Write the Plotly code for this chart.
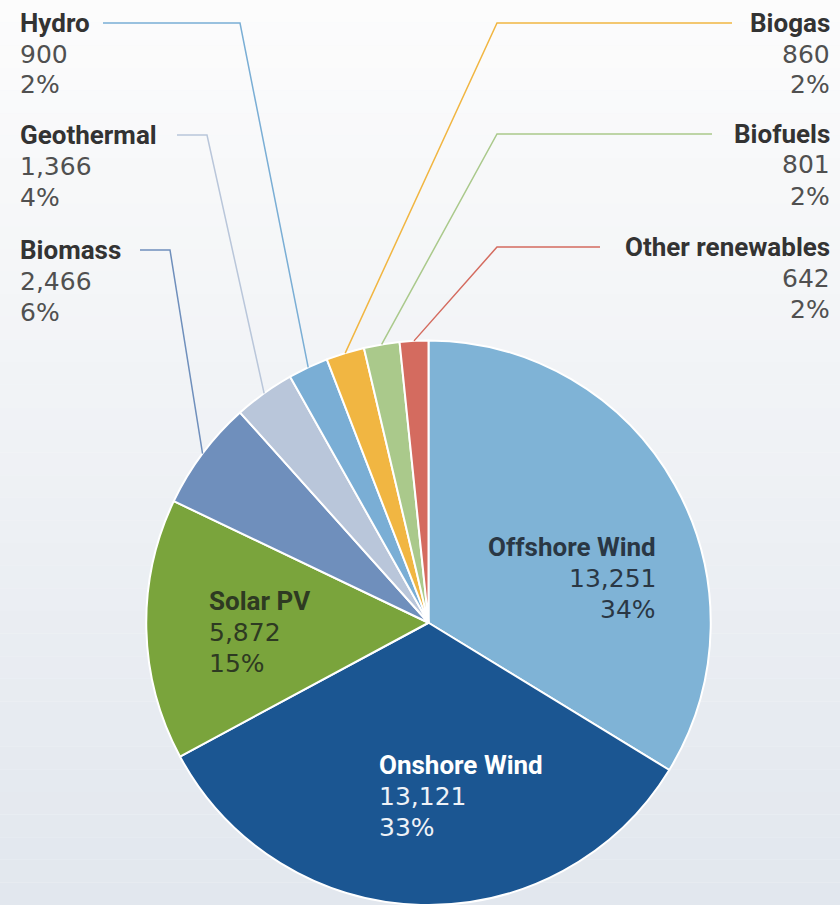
import math
import plotly.graph_objects as go

# ---- data ----
categories = ["Offshore Wind", "Onshore Wind", "Solar PV", "Biomass", "Geothermal",
              "Hydro", "Biogas", "Biofuels", "Other renewables"]
values = [13251, 13121, 5872, 2466, 1366, 900, 860, 801, 642]
pct_labels = ["34%", "33%", "15%", "6%", "4%", "2%", "2%", "2%", "2%"]
colors = ["#7fb3d6", "#1b5692", "#7aa43c", "#6f8fbc", "#b9c6da",
          "#7aaed5", "#f1b642", "#aac98b", "#d46b5f"]

W, H = 840, 905
def px(x): return x / W
def py(y): return 1 - y / H

dom_x = [145.5 / W, 711.5 / W]
dom_y = [0.0, 564.5 / H]

fig = go.Figure()
fig.add_trace(go.Pie(
    labels=categories, values=values, sort=False, direction="clockwise",
    rotation=0, marker=dict(colors=colors, line=dict(color="white", width=2)),
    textinfo="none", hoverinfo="label+value+percent", showlegend=False,
    domain=dict(x=dom_x, y=dom_y),
))

# ---- background gradient ----
shapes = []
n = 40
top = (252, 252, 252)
bot = (226, 231, 238)
for i in range(n):
    t = i / (n - 1)
    c = tuple(int(round(top[k] + (bot[k] - top[k]) * t)) for k in range(3))
    shapes.append(dict(type="rect", xref="paper", yref="paper", layer="below",
                       x0=0, x1=1, y0=1 - (i + 1) / n, y1=1 - i / n,
                       fillcolor="rgb(%d,%d,%d)" % c, line=dict(width=0)))

# pie geometry (pixels)
cx = W * (dom_x[0] + dom_x[1]) / 2
cy = H * (1 - (dom_y[0] + dom_y[1]) / 2)
r = min((dom_x[1] - dom_x[0]) * W, (dom_y[1] - dom_y[0]) * H) / 2
total = sum(values)

def edge_point(idx):
    before = sum(values[:idx])
    frac = (before + values[idx] / 2) / total
    a = 2 * math.pi * frac
    return cx + r * math.sin(a), cy - r * math.cos(a)

NAME_FONT = "Roboto"
VAL_FONT = "DejaVu Sans"
NAME_SIZE = 26
VAL_SIZE = 25
SPACING = 31

annotations = []

def add_label(idx, tx, anc, ty, name_color, val_color):
    lines = [("<b>%s</b>" % categories[idx], NAME_FONT, NAME_SIZE, name_color),
             (f"{values[idx]:,}", VAL_FONT, VAL_SIZE, val_color),
             (pct_labels[idx], VAL_FONT, VAL_SIZE, val_color)]
    for k, (txt, fam, sz, col) in enumerate(lines):
        annotations.append(dict(
            x=px(tx), y=py(ty + k * SPACING), xref="paper", yref="paper",
            xanchor=anc, yanchor="middle", showarrow=False, align=anc,
            text=txt, font=dict(family=fam, size=sz, color=col)))

# outside labels: (index, text x, anchor, first-line y, line start x, bend x)
outside = [
    (5, 18, "left", 23, 103, 240),
    (4, 18, "left", 135, 177, 207),
    (3, 18, "left", 250, 140, 170),
    (6, 832, "right", 23, 732, 497),
    (7, 832, "right", 134, 712, 497),
    (8, 832, "right", 247, 600, 497),
]
for idx, tx, anc, ty, lx, bx in outside:
    add_label(idx, tx, anc, ty, "#333333", "#505050")
    ex, ey = edge_point(idx)
    shapes.append(dict(type="path", xref="paper", yref="paper", layer="above",
                       path="M %f,%f L %f,%f L %f,%f" % (px(lx), py(ty), px(bx), py(ty), px(ex), py(ey)),
                       line=dict(color=colors[idx], width=1.5)))

# inside labels
inside = [
    (0, 658, "right", 547, "#2a3744", "#2a3744"),
    (2, 207, "left", 601, "#2e3a22", "#2e3a22"),
    (1, 377, "left", 765, "#ffffff", "#eef2f7"),
]
for idx, tx, anc, ty, nc, vc in inside:
    add_label(idx, tx, anc, ty, nc, vc)

fig.update_layout(
    width=W, height=H, margin=dict(l=0, r=0, t=0, b=0),
    paper_bgcolor="#f4f6f9", plot_bgcolor="rgba(0,0,0,0)",
    shapes=shapes, annotations=annotations,
)
fig.write_html("out.html", config={"displayModeBar": False},
               post_script="document.body.style.margin='0';")
